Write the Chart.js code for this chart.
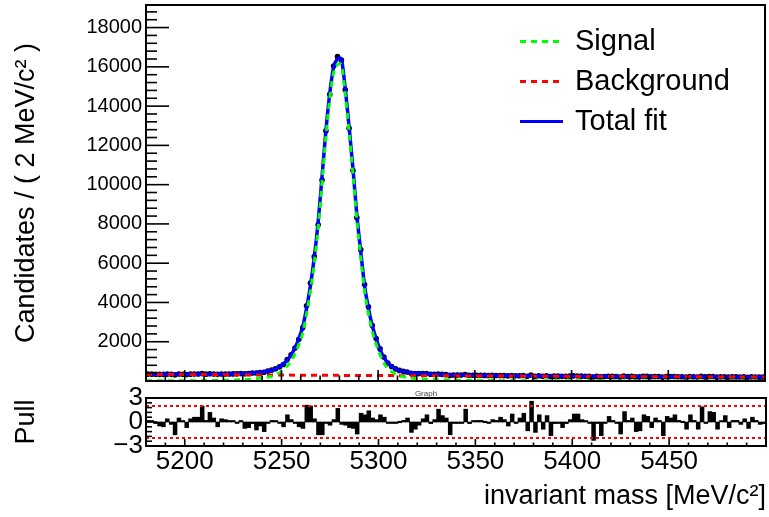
<!DOCTYPE html>
<html>
<head>
<meta charset="utf-8">
<script src="https://cdn.jsdelivr.net/npm/chart.js@4.4.0/dist/chart.umd.min.js"></script>
<style>
  html, body { margin: 0; padding: 0; background: #fff; }
  #wrap { position: relative; width: 769px; height: 517px; }
  #wrap canvas { position: absolute; left: 0; top: 0; }
</style>
</head>
<body>
<div id="wrap">
  <canvas id="fitChart" width="769" height="517"></canvas>
  <canvas id="pullChart" width="769" height="517"></canvas>
</div>
<script>
// Histogram binning (2 MeV bins)
const massMin = 5180;
const massMax = 5500;
const binWidth = 2;

// Candidates per bin
const candidates = [
    352, 349, 343, 337, 335, 352, 339, 314, 353, 345,
    330, 350, 355, 355, 382, 350, 369, 357, 338, 357,
    359, 358, 362, 364, 376, 369, 382, 406, 406, 436,
    444, 503, 555, 622, 717, 842, 1089, 1331, 1676, 2122,
    2708, 3828, 4989, 6332, 7956, 10237, 12739, 14602, 16040, 16520,
    16340, 14830, 12870, 10717, 8312, 6689, 4913, 3785, 2826, 2164,
    1636, 1221, 917, 737, 618, 540, 494, 461, 393, 382,
    378, 380, 377, 346, 346, 359, 337, 327, 286, 308,
    305, 301, 328, 294, 296, 294, 291, 285, 280, 284,
    279, 283, 276, 261, 283, 263, 271, 279, 241, 299,
    234, 268, 239, 264, 223, 246, 246, 236, 243, 249,
    259, 258, 246, 242, 236, 202, 234, 209, 232, 244,
    235, 229, 207, 249, 231, 236, 209, 209, 239, 235,
    213, 229, 224, 195, 229, 226, 231, 220, 216, 202,
    227, 217, 200, 240, 210, 229, 227, 196, 209, 219,
    196, 209, 208, 200, 209, 192, 211, 204, 196, 197
];

// Pull per bin
const pulls = [
    0.2, 0.1, -0.2, -0.5, -0.6, 0.4, -0.3, -1.6, 0.5, 0.1,
    -0.7, 0.4, 0.6, 0.6, 2.0, 0.2, 1.2, 0.5, -0.6, 0.4,
    0.3, 0.1, 0.1, -0.1, 0.1, -0.8, -0.7, -0.2, -1.0, -0.5,
    -1.2, -0.1, 0.2, 0.1, -0.1, -0.6, 0.9, 0.3, -0.1, -0.6,
    -0.8, 2.1, 2.0, 0.4, -1.6, -1.6, -0.1, -0.4, 0.3, 1.7,
    -0.3, -0.4, -0.7, -0.8, -1.5, 1.1, 0.9, 1.4, 0.5, 0.3,
    0.9, 0.6, -0.1, -0.1, -0.1, 0.0, 0.2, 0.5, -1.3, -0.9,
    -0.4, 0.4, 0.9, -0.2, 0.3, 1.6, 0.8, 0.5, -1.6, -0.1,
    -0.1, -0.1, 1.6, -0.2, 0.1, 0.2, 0.2, 0.0, -0.1, 0.3,
    0.2, 0.6, 0.3, -0.5, 1.0, -0.1, 0.5, 1.1, -1.1, 2.6,
    -1.3, 0.9, -0.9, 0.8, -1.7, -0.2, -0.1, -0.7, -0.2, 0.3,
    1.0, 1.0, 0.3, 0.1, -0.1, -2.3, -0.1, -1.7, -0.1, 0.7,
    0.2, -0.1, -1.5, 1.3, 0.2, 0.5, -1.2, -1.1, 0.9, 0.7,
    -0.7, 0.5, 0.2, -1.7, 0.7, 0.5, 0.9, 0.2, 0.0, -0.9,
    0.9, 0.2, -0.9, 1.9, -0.1, 1.3, 1.2, -0.9, 0.1, 0.8,
    -0.7, 0.2, 0.2, -0.3, 0.4, -0.8, 0.6, 0.2, -0.3, -0.2
];

// Fit curves, sampled at these masses
const fitMass = [
    5180, 5200, 5220, 5230, 5235, 5241, 5243, 5245, 5247, 5249,
    5251, 5253, 5255, 5257, 5259, 5261, 5263, 5265, 5267, 5269,
    5271, 5273, 5275, 5277, 5279, 5280, 5281, 5283, 5285, 5287,
    5289, 5291, 5293, 5295, 5297, 5299, 5301, 5303, 5305, 5307,
    5309, 5311, 5313, 5315, 5317, 5320, 5325, 5330, 5340, 5360,
    5380, 5420, 5460, 5500
];
const fitTotal = [
    348, 343, 350, 380, 410, 470, 505, 550, 620, 720,
    860, 1060, 1320, 1680, 2150, 2750, 3700, 4850, 6300, 8100,
    10400, 12750, 14650, 16000, 16400, 16450, 16380, 14880, 12950, 10800,
    8450, 6600, 4850, 3700, 2800, 2150, 1600, 1200, 920, 740,
    620, 540, 490, 452, 425, 392, 360, 337, 308, 275,
    255, 233, 215, 200
];
const fitSignal = [
    8, 14, 32, 67, 100, 163, 199, 245, 316, 417,
    558, 759, 1020, 1381, 1852, 2454, 3405, 4556, 6007, 7808,
    10109, 12460, 14361, 15712, 16113, 16163, 16094, 14595, 12666, 10517,
    8167, 6318, 4569, 3420, 2521, 1872, 1322, 923, 644, 465,
    346, 267, 218, 181, 155, 123, 93, 73, 48, 23,
    12, 6, 3, 2
];
const bkgMass = [5180, 5220, 5260, 5300, 5340, 5380, 5420, 5460, 5500];
const bkgValues = [340, 318, 297, 278, 260, 243, 227, 212, 198];

// Axis ticks
const yTickValues = [2000, 4000, 6000, 8000, 10000, 12000, 14000, 16000, 18000];
const xTickValues = [5200, 5250, 5300, 5350, 5400, 5450];
const pullTickValues = [-3, 0, 3];
const pullLimits = [-2, 2];

const binCenters = candidates.map((_, i) => massMin + binWidth * (i + 0.5));
const toPoints = (xs, ys) => xs.map((x, i) => ({ x: x, y: ys[i] }));

const FONT = "'Liberation Sans', Arial, Helvetica, sans-serif";
Chart.defaults.font.family = FONT;
Chart.defaults.color = '#000';

function tickLine(ctx, x1, y1, x2, y2) {
    ctx.beginPath();
    ctx.moveTo(x1, y1);
    ctx.lineTo(x2, y2);
    ctx.stroke();
}

// keep chart areas where the pads are: no extra label padding
function fixWidth(w) {
    return s => { s.width = w; s.paddingTop = 0; s.paddingBottom = 0; };
}
function fixHeight(h) {
    return s => { s.height = h; s.paddingLeft = 0; s.paddingRight = 0; };
}

// Frame, inward ticks and legend of the fit pad
const fitFrame = {
    id: 'fitFrame',
    afterDatasetsDraw(chart) {
        const { ctx, chartArea: a, scales: { x, y } } = chart;
        ctx.save();
        ctx.strokeStyle = '#000';
        ctx.lineWidth = 1.6;
        for (let v = 0; v <= y.max; v += 400) {
            const py = y.getPixelForValue(v);
            tickLine(ctx, a.left, py, a.left + (v % 2000 === 0 ? 23 : 11), py);
        }
        for (let m = massMin; m <= massMax; m += 10) {
            const px = x.getPixelForValue(m);
            tickLine(ctx, px, a.bottom, px, a.bottom - (m % 50 === 0 ? 11 : 5.5));
        }
        ctx.lineWidth = 2;
        ctx.strokeRect(a.left, a.top, a.right - a.left, a.bottom - a.top);

        // legend
        ctx.font = '29px ' + FONT;
        ctx.textBaseline = 'alphabetic';
        ctx.textAlign = 'left';
        chart.data.datasets.slice(0, 3).forEach((ds, i) => {
            const base = 50 + i * 40;
            ctx.strokeStyle = ds.borderColor;
            ctx.lineWidth = 3;
            ctx.setLineDash(ds.borderDash || []);
            tickLine(ctx, 520, base - 8.5, 563, base - 8.5);
            ctx.setLineDash([]);
            ctx.fillStyle = '#000';
            ctx.fillText(ds.label, 575, base);
        });
        ctx.restore();
    }
};

// Frame, ticks and +-2 lines of the pull pad
const pullFrame = {
    id: 'pullFrame',
    afterDatasetsDraw(chart) {
        const { ctx, chartArea: a, scales: { x, y } } = chart;
        ctx.save();
        ctx.strokeStyle = '#ff0000';
        ctx.lineWidth = 2;
        ctx.setLineDash([3, 3]);
        pullLimits.forEach(v => {
            const py = y.getPixelForValue(v);
            tickLine(ctx, a.left, py, a.right, py);
        });
        ctx.setLineDash([]);
        ctx.strokeStyle = '#000';
        ctx.lineWidth = 1.6;
        for (let v = -3; v <= 3.001; v += 0.6) {
            const py = y.getPixelForValue(v);
            const major = Math.abs(v) < 0.01 || Math.abs(Math.abs(v) - 3) < 0.01;
            tickLine(ctx, a.left, py, a.left + (major ? 11 : 6), py);
        }
        for (let m = massMin; m <= massMax; m += 10) {
            const px = x.getPixelForValue(m);
            tickLine(ctx, px, a.bottom, px, a.bottom - (m % 50 === 0 ? 7 : 3.5));
        }
        ctx.lineWidth = 2;
        ctx.strokeRect(a.left, a.top, a.right - a.left, a.bottom - a.top);

        ctx.font = '8px ' + FONT;
        ctx.fillStyle = '#444';
        ctx.textAlign = 'center';
        ctx.textBaseline = 'alphabetic';
        ctx.fillText('Graph', 426, 396);
        ctx.restore();
    }
};

new Chart(document.getElementById('fitChart'), {
    type: 'line',
    data: {
        datasets: [
            {
                label: 'Signal',
                data: toPoints(fitMass, fitSignal),
                borderColor: '#00ff00',
                borderWidth: 3,
                borderDash: [6, 5],
                pointRadius: 0,
                cubicInterpolationMode: 'monotone',
                order: 1
            },
            {
                label: 'Background',
                data: toPoints(bkgMass, bkgValues),
                borderColor: '#ff0000',
                borderWidth: 3,
                borderDash: [6, 5],
                pointRadius: 0,
                cubicInterpolationMode: 'monotone',
                order: 1
            },
            {
                label: 'Total fit',
                data: toPoints(fitMass, fitTotal),
                borderColor: '#0000ff',
                borderWidth: 3.5,
                pointRadius: 0,
                cubicInterpolationMode: 'monotone',
                order: 2
            },
            {
                label: 'Data',
                data: toPoints(binCenters, candidates),
                showLine: false,
                pointRadius: 2.8,
                pointBorderWidth: 0,
                pointBackgroundColor: '#000',
                order: 3
            }
        ]
    },
    options: {
        responsive: false,
        animation: false,
        events: [],
        devicePixelRatio: 1,
        layout: { padding: { left: 0, top: 5, right: 3, bottom: 136 } },
        plugins: { legend: { display: false }, tooltip: { enabled: false } },
        scales: {
            x: { type: 'linear', min: massMin, max: massMax, display: false },
            y: {
                type: 'linear',
                min: 0,
                max: 19150,
                afterFit: fixWidth(146),
                afterBuildTicks: s => { s.ticks = yTickValues.map(v => ({ value: v })); },
                grid: { display: false, drawTicks: false },
                border: { display: false },
                ticks: { font: { size: 20 }, padding: 4, autoSkip: false, callback: v => String(v) },
                title: {
                    display: true,
                    text: 'Candidates / ( 2 MeV/c² )',
                    font: { size: 27 },
                    padding: { top: 10, bottom: 0 }
                }
            }
        }
    },
    plugins: [fitFrame]
});

new Chart(document.getElementById('pullChart'), {
    type: 'bar',
    data: {
        datasets: [{
            label: 'Pull',
            data: toPoints(binCenters, pulls),
            backgroundColor: '#000',
            borderWidth: 0,
            barPercentage: 1,
            categoryPercentage: 1,
            minBarLength: 1.5
        }]
    },
    options: {
        responsive: false,
        animation: false,
        events: [],
        devicePixelRatio: 1,
        layout: { padding: { left: 0, top: 398, right: 3, bottom: 0 } },
        plugins: { legend: { display: false }, tooltip: { enabled: false } },
        scales: {
            x: {
                type: 'linear',
                min: massMin,
                max: massMax,
                offset: false,
                afterFit: fixHeight(71),
                afterBuildTicks: s => { s.ticks = xTickValues.map(v => ({ value: v })); },
                grid: { display: false, drawTicks: false },
                border: { display: false },
                ticks: { font: { size: 26 }, padding: 0, maxRotation: 0, autoSkip: false, callback: v => String(v) },
                title: {
                    display: true,
                    text: 'invariant mass [MeV/c²]',
                    align: 'end',
                    font: { size: 27 },
                    padding: { top: 0, bottom: 4 }
                }
            },
            y: {
                type: 'linear',
                min: -3,
                max: 3,
                afterFit: fixWidth(146),
                afterBuildTicks: s => { s.ticks = pullTickValues.map(v => ({ value: v })); },
                grid: { display: false, drawTicks: false },
                border: { display: false },
                ticks: { font: { size: 26 }, padding: 3, autoSkip: false, callback: v => (v < 0 ? '\u2212' + Math.abs(v) : String(v)) },
                title: {
                    display: true,
                    text: 'Pull',
                    font: { size: 27 },
                    padding: { top: 10, bottom: 0 }
                }
            }
        }
    },
    plugins: [pullFrame]
});
</script>
</body>
</html>
